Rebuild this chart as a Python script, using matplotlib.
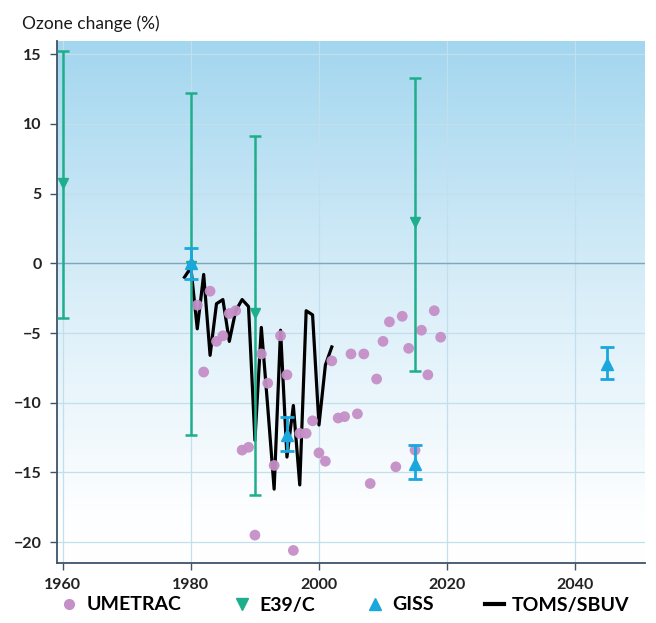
import numpy as np
import matplotlib
matplotlib.use("Agg")
import matplotlib.pyplot as plt
from matplotlib.colors import LinearSegmentedColormap
from matplotlib.lines import Line2D

plt.rcParams['font.family'] = ['Lato', 'DejaVu Sans']

# TOMS/SBUV observed series (yearly)
toms_years = list(range(1979, 2003))
toms = [-1.0, -0.3, -4.7, -0.8, -6.6, -2.9, -2.6, -5.6, -3.4, -2.6, -3.1, -12.7,
        -4.6, -10.3, -16.2, -4.8, -13.9, -10.2, -15.9, -3.4, -3.7, -11.6, -7.3, -6.0]

# UMETRAC model ensemble points
umetrac_years = [1981, 1982, 1983, 1984, 1985, 1986, 1987, 1988, 1989, 1990,
                 1991, 1992, 1993, 1994, 1995, 1996, 1997, 1998, 1999, 2000,
                 2001, 2002, 2003, 2004, 2005, 2006, 2007, 2008, 2009, 2010,
                 2011, 2012, 2013, 2014, 2015, 2016, 2017, 2018, 2019]
umetrac = [-3.0, -7.8, -2.0, -5.6, -5.2, -3.6, -3.4, -13.4, -13.2, -19.5,
           -6.5, -8.6, -14.5, -5.2, -8.0, -20.6, -12.2, -12.2, -11.3, -13.6,
           -14.2, -7.0, -11.1, -11.0, -6.5, -10.8, -6.5, -15.8, -8.3, -5.6,
           -4.2, -14.6, -3.8, -6.1, -13.4, -4.8, -8.0, -3.4, -5.3]

# E39/C: central value and range
e39_years = [1960, 1980, 1990, 2015]
e39_mid = [5.75, -0.2, -3.6, 3.0]
e39_hi = [15.2, 12.2, 9.1, 13.3]
e39_lo = [-3.9, -12.3, -16.6, -7.7]

# GISS: central value and range
giss_years = [1980, 1995, 2015, 2045]
giss_mid = [0.0, -12.35, -14.4, -7.2]
giss_hi = [1.1, -11.0, -13.0, -6.0]
giss_lo = [-1.1, -13.5, -15.5, -8.3]

x_ticks = [1960, 1980, 2000, 2020, 2040]
y_ticks = [-20, -15, -10, -5, 0, 5, 10, 15]

pink = '#c58fc7'
green = '#1fae8c'
blue = '#19a7de'
spine = '#3d5468'

W, H = 656, 623
fig = plt.figure(figsize=(W / 100, H / 100), dpi=100)
ax = fig.add_axes([57 / W, 1 - 563 / H, (645 - 57) / W, (563 - 41) / H])

xmin, xmax = 1959.1, 2050.9
ymin, ymax = -21.5, 15.95

# background gradient: white at the bottom, sky blue at the top
cmap = LinearSegmentedColormap.from_list(
    'sky', [(0, '#ffffff'), (0.1, '#fdfeff'), (0.5, '#dbeff9'), (1, '#a3d6ef')])
grad = np.linspace(0, 1, 256).reshape(-1, 1)
ax.imshow(grad, extent=[xmin, xmax, ymin, ymax], origin='lower',
          aspect='auto', cmap=cmap, zorder=0)

ax.set_xlim(xmin, xmax)
ax.set_ylim(ymin, ymax)
ax.set_xticks(x_ticks)
ax.set_yticks(y_ticks)
ax.set_axisbelow(True)
ax.grid(color='#c2dfed', lw=0.9)
ax.axhline(0, color='#7fa7bc', lw=1.0, zorder=1)

ax.plot(toms_years, toms, color='black', lw=2.3, zorder=3)
ax.scatter(umetrac_years, umetrac, s=60, color=pink, edgecolors='none',
           alpha=0.95, zorder=4)

e39_err = [np.subtract(e39_mid, e39_lo), np.subtract(e39_hi, e39_mid)]
ax.errorbar(e39_years, e39_mid, yerr=e39_err, fmt='v', color=green, ms=7,
            elinewidth=1.8, capsize=4, capthick=1.8, zorder=5)

giss_err = [np.subtract(giss_mid, giss_lo), np.subtract(giss_hi, giss_mid)]
ax.errorbar(giss_years, giss_mid, yerr=giss_err, fmt='^', color=blue, ms=8,
            elinewidth=2, capsize=5, capthick=2, zorder=6)

for s in ['top', 'right']:
    ax.spines[s].set_visible(False)
for s in ['left', 'bottom']:
    ax.spines[s].set_color(spine)
    ax.spines[s].set_linewidth(1.3)
ax.tick_params(direction='out', length=5, width=1, color=spine,
               labelsize=11.5, pad=6)
for lab in ax.get_xticklabels() + ax.get_yticklabels():
    lab.set_fontweight('bold')
    lab.set_color('#222222')

fig.text(22 / W, 1 - 24 / H, 'Ozone change (%)', fontsize=12.5,
         ha='left', va='center', color='#1a1a1a')

handles = [
    Line2D([], [], marker='o', ls='', color=pink, ms=7),
    Line2D([], [], marker='v', ls='', color=green, ms=8),
    Line2D([], [], marker='^', ls='', color=blue, ms=8),
    Line2D([], [], color='black', lw=3),
]
labels = ['UMETRAC', 'E39/C', 'GISS', 'TOMS/SBUV']
fig.legend(handles, labels, loc='center', bbox_to_anchor=(0.525, 1 - 605 / H),
           ncol=4, frameon=False, prop={'weight': 'bold', 'size': 14},
           handlelength=1.0, handletextpad=0.4, columnspacing=2.6)

fig.savefig('out.png', dpi=100)
